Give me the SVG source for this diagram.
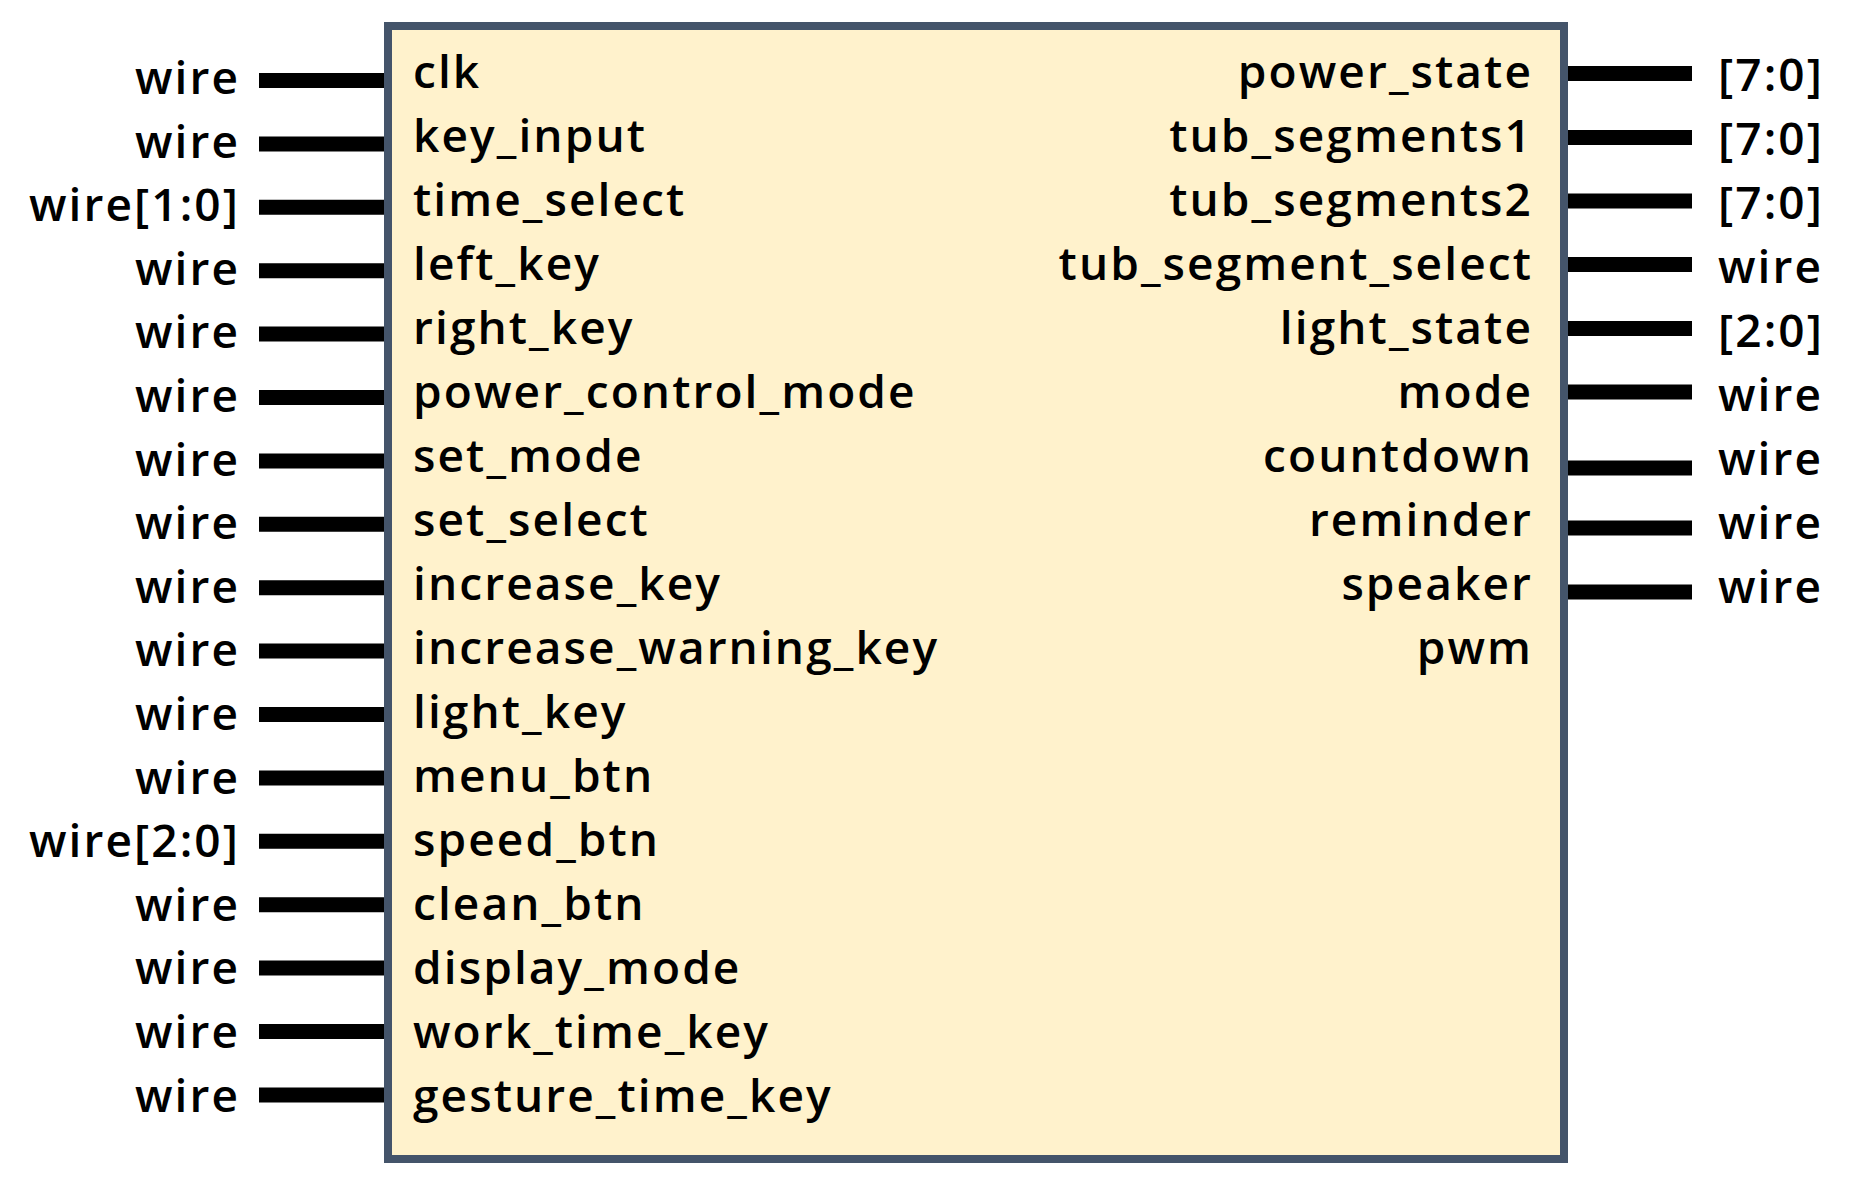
<svg xmlns="http://www.w3.org/2000/svg" width="1858" height="1186" viewBox="0 0 1858 1186">
  <style>
    .lbl { font-family: "Open Sans", "Noto Sans", "Liberation Sans", sans-serif; font-size: 46px; font-weight: 600; letter-spacing: 2.1px; fill: #000; }
    .end { text-anchor: end; }
    .wire { stroke: #000; stroke-width: 15; fill: none; }
    .body { fill: #FFF2CC; stroke: #44546A; stroke-width: 8; }
  </style>
  <rect width="1858" height="1186" fill="#fff"/>

  <!-- port wires -->
  <g id="connectors">
    <path class="wire" d="M259 80.5H390 M259 143.9H390 M259 207.3H390 M259 270.7H390 M259 334.1H390 M259 397.5H390 M259 460.9H390 M259 524.3H390 M259 587.7H390 M259 651.1H390 M259 714.5H390 M259 777.9H390 M259 841.3H390 M259 904.7H390 M259 968.1H390 M259 1031.5H390 M259 1094.9H390"/>
    <path class="wire" d="M1562 73.5H1692 M1562 137.5H1692 M1562 201H1692 M1562 264.5H1692 M1562 328.5H1692 M1562 392H1692 M1562 468H1692 M1562 528H1692 M1562 592H1692"/>
  </g>

  <!-- module block -->
  <g id="module">
    <rect class="body" x="388" y="26" width="1176" height="1133"/>
  </g>

  <!-- input ports -->
  <g id="inputs">
    <text class="lbl" x="413" y="88">clk</text>
    <text class="lbl" x="413" y="152">key_input</text>
    <text class="lbl" x="413" y="216">time_select</text>
    <text class="lbl" x="413" y="280">left_key</text>
    <text class="lbl" x="413" y="344">right_key</text>
    <text class="lbl" x="413" y="408">power_control_mode</text>
    <text class="lbl" x="413" y="472">set_mode</text>
    <text class="lbl" x="413" y="536">set_select</text>
    <text class="lbl" x="413" y="600">increase_key</text>
    <text class="lbl" x="413" y="664">increase_warning_key</text>
    <text class="lbl" x="413" y="728">light_key</text>
    <text class="lbl" x="413" y="792">menu_btn</text>
    <text class="lbl" x="413" y="856">speed_btn</text>
    <text class="lbl" x="413" y="920">clean_btn</text>
    <text class="lbl" x="413" y="984">display_mode</text>
    <text class="lbl" x="413" y="1048">work_time_key</text>
    <text class="lbl" x="413" y="1112">gesture_time_key</text>
  </g>

  <!-- input types -->
  <g id="input-types">
    <text class="lbl end" x="240" y="94">wire</text>
    <text class="lbl end" x="240" y="157.6">wire</text>
    <text class="lbl end" x="240" y="221.2">wire[1:0]</text>
    <text class="lbl end" x="240" y="284.8">wire</text>
    <text class="lbl end" x="240" y="348.4">wire</text>
    <text class="lbl end" x="240" y="412">wire</text>
    <text class="lbl end" x="240" y="475.6">wire</text>
    <text class="lbl end" x="240" y="539.2">wire</text>
    <text class="lbl end" x="240" y="602.8">wire</text>
    <text class="lbl end" x="240" y="666.4">wire</text>
    <text class="lbl end" x="240" y="730">wire</text>
    <text class="lbl end" x="240" y="793.6">wire</text>
    <text class="lbl end" x="240" y="857.2">wire[2:0]</text>
    <text class="lbl end" x="240" y="920.8">wire</text>
    <text class="lbl end" x="240" y="984.4">wire</text>
    <text class="lbl end" x="240" y="1048">wire</text>
    <text class="lbl end" x="240" y="1111.6">wire</text>
  </g>

  <!-- output ports -->
  <g id="outputs">
    <text class="lbl end" x="1533" y="88">power_state</text>
    <text class="lbl end" x="1533" y="152">tub_segments1</text>
    <text class="lbl end" x="1533" y="216">tub_segments2</text>
    <text class="lbl end" x="1533" y="280">tub_segment_select</text>
    <text class="lbl end" x="1533" y="344">light_state</text>
    <text class="lbl end" x="1533" y="408">mode</text>
    <text class="lbl end" x="1533" y="472">countdown</text>
    <text class="lbl end" x="1533" y="536">reminder</text>
    <text class="lbl end" x="1533" y="600">speaker</text>
    <text class="lbl end" x="1533" y="664">pwm</text>
  </g>

  <!-- output types -->
  <g id="output-types">
    <text class="lbl" x="1718" y="91">[7:0]</text>
    <text class="lbl" x="1718" y="155">[7:0]</text>
    <text class="lbl" x="1718" y="219">[7:0]</text>
    <text class="lbl" x="1718" y="283">wire</text>
    <text class="lbl" x="1718" y="347">[2:0]</text>
    <text class="lbl" x="1718" y="411">wire</text>
    <text class="lbl" x="1718" y="475">wire</text>
    <text class="lbl" x="1718" y="539">wire</text>
    <text class="lbl" x="1718" y="603">wire</text>
  </g>
</svg>
